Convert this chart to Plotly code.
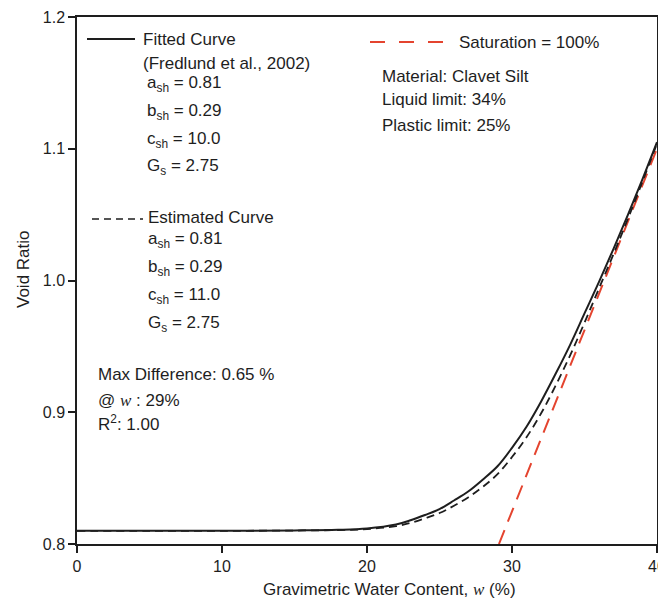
import plotly.graph_objects as go

# ---- data ----
water_content = [0, 5, 10, 15, 18, 20, 22, 23, 24, 25, 26, 27, 28, 29, 30,
                 31, 32, 33, 34, 35, 36, 37, 38, 39, 40]
fitted_void = [0.810, 0.810, 0.810, 0.8103, 0.8108, 0.8118, 0.8148, 0.818, 0.822,
               0.8265, 0.833, 0.840, 0.849, 0.859, 0.873, 0.889, 0.908, 0.929,
               0.951, 0.975, 0.999, 1.024, 1.050, 1.077, 1.105]
estimated_void = [0.810, 0.810, 0.810, 0.8102, 0.8106, 0.8113, 0.8135, 0.816, 0.8195,
                  0.8235, 0.829, 0.8355, 0.8435, 0.853, 0.866, 0.881, 0.899, 0.920,
                  0.943, 0.968, 0.994, 1.020, 1.047, 1.075, 1.104]
saturation_w = [29.1, 40]
saturation_void = [0.80, 1.10]

x_ticks = [0, 10, 20, 30, 40]
y_ticks = [0.8, 0.9, 1.0, 1.1, 1.2]
y_tick_text = ["0.8", "0.9", "1.0", "1.1", "1.2"]

FONT = "Liberation Sans, Arial, sans-serif"
SERIF = "Liberation Serif, Times New Roman, serif"
INK = "#1e1e1e"
RED = "#e4442f"

W, H = 658, 603
L, R, T, B = 77, 1, 17, 59
PW, PH = W - L - R, H - T - B


def px(x):
    return (x - L) / PW


def py(y):
    return (T + PH - y) / PH


fig = go.Figure()
fig.add_trace(go.Scatter(x=saturation_w, y=saturation_void, mode="lines",
                         line=dict(color=RED, width=2, dash="15px,9px"),
                         showlegend=False, hoverinfo="skip"))
fig.add_trace(go.Scatter(x=water_content, y=estimated_void, mode="lines",
                         line=dict(color=INK, width=1.8, dash="8px,5px", shape="spline"),
                         showlegend=False, hoverinfo="skip"))
fig.add_trace(go.Scatter(x=water_content, y=fitted_void, mode="lines",
                         line=dict(color=INK, width=2, shape="spline"),
                         showlegend=False, hoverinfo="skip"))

shapes = [
    dict(type="line", xref="paper", yref="paper", x0=px(87), x1=px(135), y0=py(39), y1=py(39),
         line=dict(color=INK, width=1.8)),
    dict(type="line", xref="paper", yref="paper", x0=px(92), x1=px(143), y0=py(219), y1=py(219),
         line=dict(color=INK, width=1.5, dash="7px,5px")),
    dict(type="line", xref="paper", yref="paper", x0=px(370), x1=px(443), y0=py(42), y1=py(42),
         line=dict(color=RED, width=2, dash="15px,14px")),
]

ann = []


def text(x, y, s, size=17, **kw):
    d = dict(xref="paper", yref="paper", x=px(x), y=py(y), text=s, showarrow=False,
             xanchor="left", yanchor="middle", font=dict(family=FONT, size=size, color=INK))
    d.update(kw)
    ann.append(d)


text(141, 39, "Fitted Curve")
text(141, 63, "(Fredlund et al., 2002)")
text(145, 84, "a<sub>sh</sub> = 0.81")
text(145, 112, "b<sub>sh</sub> = 0.29")
text(145, 140, "c<sub>sh</sub> = 10.0")
text(145, 167, "G<sub>s</sub> = 2.75")

text(146, 218, "Estimated Curve")
text(146, 240, "a<sub>sh</sub> = 0.81")
text(146, 268, "b<sub>sh</sub> = 0.29")
text(146, 296, "c<sub>sh</sub> = 11.0")
text(146, 324, "G<sub>s</sub> = 2.75")

text(96, 374, "Max Difference: 0.65 %")
text(96, 400, "@ <span style='font-family:Liberation Serif, Times New Roman, serif'><i>w</i></span> : 29%")
text(96, 423, "R<sup>2</sup>: 1.00")

text(457, 42, "Saturation = 100%")
text(380, 76, "Material: Clavet Silt")
text(380, 100, "Liquid limit: 34%")
text(380, 125, "Plastic limit: 25%")

# axis titles
ann.append(dict(xref="paper", yref="paper", x=px(389), y=py(589), showarrow=False,
                xanchor="center", yanchor="middle",
                text="Gravimetric Water Content, <span style='font-family:Liberation Serif, Times New Roman, serif'><i>w</i></span> (%)",
                font=dict(family=FONT, size=17, color=INK)))
ann.append(dict(xref="paper", yref="paper", x=px(23), y=py(269), showarrow=False,
                xanchor="center", yanchor="middle", textangle=-90, text="Void Ratio",
                font=dict(family=FONT, size=17, color=INK)))

axis_common = dict(showline=True, linecolor=INK, linewidth=1.5, mirror=True,
                   ticks="outside", ticklen=7, tickwidth=1.5, tickcolor=INK,
                   showgrid=False, zeroline=False, ticklabeloverflow="allow",
                   automargin=False,
                   tickfont=dict(family=FONT, size=16, color=INK))

fig.update_layout(
    width=W, height=H,
    margin=dict(l=L, r=R, t=T, b=B),
    paper_bgcolor="white", plot_bgcolor="white",
    showlegend=False,
    xaxis=dict(range=[0, 40], tickvals=x_ticks, **axis_common),
    yaxis=dict(range=[0.8, 1.2], tickvals=y_ticks, ticktext=y_tick_text, **axis_common),
    shapes=shapes, annotations=ann,
)

fig.write_html("out.html")
